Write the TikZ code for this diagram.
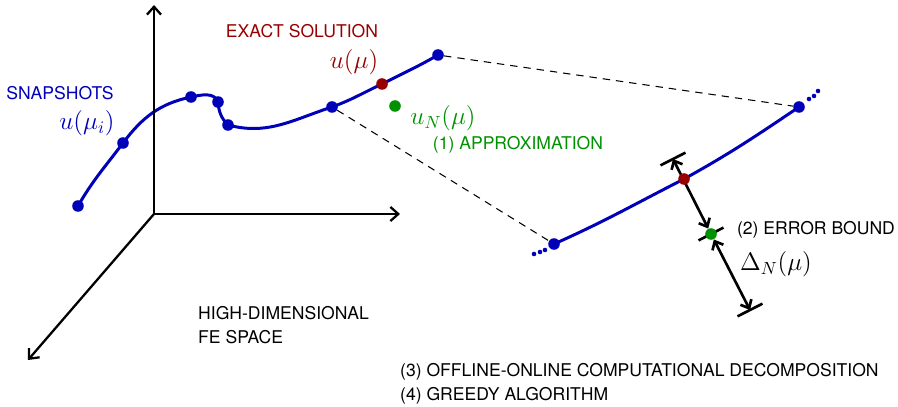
\documentclass[tikz,border=0pt]{standalone}
\usepackage[no-math]{fontspec}
\setmainfont{TeX Gyre Heros}
\usepackage{tikz}
\usetikzlibrary{arrows.meta,calc,backgrounds}
\definecolor{snapblue}{RGB}{0,0,185}
\definecolor{exactred}{RGB}{150,0,0}
\definecolor{approxgreen}{RGB}{0,145,0}
\tikzset{
	bluedot/.style={circle, fill=snapblue, inner sep=0pt, minimum size=6.6pt}
}
\tikzset{
	reddot/.style={circle, fill=exactred, inner sep=0pt, minimum size=6.6pt}
}
\tikzset{
	greendot/.style={circle, fill=approxgreen, inner sep=0pt, minimum size=6.6pt}
}
\tikzset{
	axis/.style={line width=1.3pt, line join=miter},
	curve/.style={snapblue, line width=1.7pt},
	proj/.style={line width=0.6pt, dash pattern=on 4.2pt off 3.4pt},
	errbar/.style={line width=1.5pt}
}
\begin{document}
\begin{tikzpicture}[x=0.02cm,y=0.02cm,>={Straight Barb[length=4.5pt,width=8pt]}]
	\useasboundingbox (0,0) rectangle (898,406);
	\coordinate (O) at (154,192);
	\coordinate (ax1) at (154,401);
	\coordinate (ax2) at (400,192);
	\coordinate (ax3) at (28,46);
	\draw[axis,<->] (ax1) -- (O) -- (ax2);
	\draw[axis,->] (O) -- (ax3);
	\node[bluedot] (s1) at (78,200) {};
	\node[bluedot] (s2) at (123,263) {};
	\node[bluedot] (s3) at (191,309) {};
	\node[bluedot] (s4) at (218,304) {};
	\node[bluedot] (s5) at (228,281) {};
	\node[bluedot] (s6) at (332,299) {};
	\node[reddot] (ex) at (382,322) {};
	\node[bluedot] (s7) at (438,351) {};
	\node[greendot] (ap) at (395,300) {};
	\node[bluedot] (rl) at (554,162) {};
	\node[reddot] (rex) at (684,227) {};
	\node[bluedot] (rr) at (799,299) {};
	\coordinate (et) at (673,247);
	\coordinate (eb) at (750,96);
	\node[greendot] (rap) at (711,172) {};
	\begin{scope}[on background layer]
		\draw[curve] (s1.center) to[out=60,in=233] (s2.center) to[out=53,in=192] (s3.center) to[out=12,in=110] (s4.center) to[out=275,in=135] (s5.center) to[out=-15,in=198] (s6.center) to[out=20,in=205] (ex.center) to[out=27,in=210] (s7.center);
		\draw[curve] (rl.center) to[out=24,in=207] (rex.center) to[out=29,in=214] (rr.center);
		\draw[errbar,<->,>={Straight Barb[length=4pt,width=7pt]}] (et) -- (rap);
		\draw[errbar,<->,>={Straight Barb[length=4pt,width=7pt]}] (rap) -- (eb);
		\draw[errbar] ($(et)!0.28cm!90:(eb)$) -- ($(et)!0.28cm!-90:(eb)$);
		\draw[errbar] ($(rap.center)!0.28cm!90:(eb)$) -- ($(rap.center)!0.28cm!-90:(eb)$);
		\draw[errbar] ($(eb)!0.28cm!90:(et)$) -- ($(eb)!0.28cm!-90:(et)$);
	\end{scope}
	\draw[proj] (s7) -- (rr);
	\draw[proj] (s6) -- (rl);
	\foreach \x/\y in {809/307, 814/310, 818/315, 534/152, 540/154, 545/156}
		\fill[snapblue] (\x,\y) circle (1.3pt);
	\node[text=exactred] (exlbl) at (302,375) {EXACT SOLUTION};
	\node[text=exactred] (exmath) at (354,344) {\Large $u(\mu)$};
	\node[text=snapblue] (snaplbl) at (60,313) {SNAPSHOTS};
	\node[text=snapblue] (snapmath) at (87,283) {\Large $u(\mu_i)$};
	\node[text=approxgreen] (apmath) at (443,288) {\Large $u_N(\mu)$};
	\node[text=approxgreen] (aplbl) at (518,261) {(1) APPROXIMATION};
	\node (errlbl) at (816,176) {(2) ERROR BOUND};
	\node (errmath) at (776,142) {\Large $\Delta_N(\mu)$};
	\node[anchor=west, align=left] (fespace) at (192,81) {HIGH-DIMENSIONAL\\[1.5pt]FE SPACE};
	\node[anchor=west, align=left] (steps) at (394,22) {(3) OFFLINE-ONLINE COMPUTATIONAL DECOMPOSITION\\[1.5pt](4) GREEDY ALGORITHM};
\end{tikzpicture}
\end{document}
